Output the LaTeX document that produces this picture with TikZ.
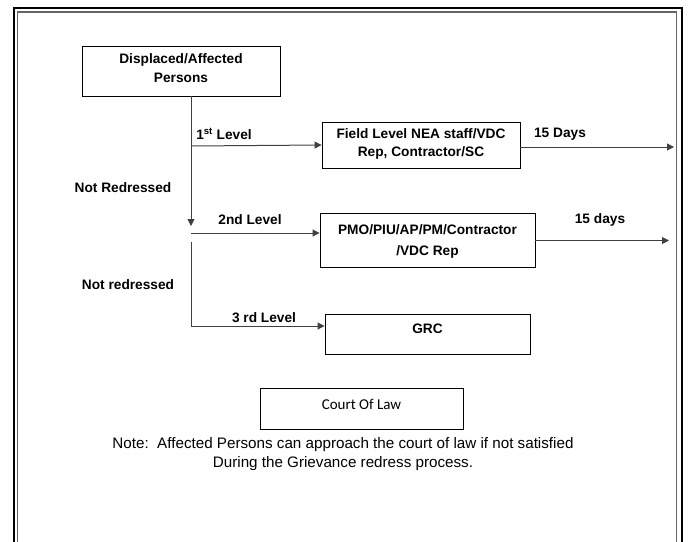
\documentclass[tikz,border=0pt]{standalone}
\usepackage{fontspec}
\setmainfont{Liberation Sans}
\newfontfamily\carl{Carlito}
\usetikzlibrary{arrows.meta}
\begin{document}
\begin{tikzpicture}[x=1pt,y=-1pt,
  box/.style={draw,line width=0.9pt,inner sep=0pt},
  lbl/.style={font=\bfseries\fontsize{13.7}{15}\selectfont,inner sep=0pt,align=center},
  conn/.style={draw=black!75,line width=1pt,-{Triangle[length=7pt,width=7pt]}},
  plain/.style={draw=black!75,line width=1pt}]
\useasboundingbox (0,0) rectangle (688,541);
% frame
\draw[line width=2pt] (14,545) -- (14,8) -- (682,8) -- (682,545);
\draw[black!60,line width=1.6pt] (17.5,545) -- (17.5,12) -- (676.5,12) -- (676.5,545);
% boxes
\node[box,minimum width=198pt,minimum height=50pt] (dap) at (181,71) {};
\node[lbl] at (181,59.5) {Displaced/Affected};
\node[lbl] at (181,77.5) {Persons};
\node[box,minimum width=198pt,minimum height=46pt] (fl) at (421,145) {};
\node[lbl] at (421,134) {Field Level NEA staff/VDC};
\node[lbl] at (421,153) {Rep, Contractor/SC};
\node[box,minimum width=215pt,minimum height=54pt] (pmo) at (427.5,240) {};
\node[lbl] at (427.5,230) {PMO/PIU/AP/PM/Contractor};
\node[lbl] at (427.5,252) {/VDC Rep};
\node[box,minimum width=205pt,minimum height=40pt] (grc) at (427.5,334) {};
\node[lbl] at (427.5,329) {GRC};
\node[box,minimum width=203pt,minimum height=41pt] (col) at (361.5,408.5) {};
\node[font=\carl\fontsize{15}{17}\selectfont,inner sep=0pt] at (361.5,404) {Court Of Law};
\node[font=\fontsize{15.2}{17}\selectfont,inner sep=0pt] (note1) at (343,444.5) {Note:\ \ Affected Persons can approach the court of law if not satisfied};
\node[font=\fontsize{15.2}{17}\selectfont,inner sep=0pt] (note2) at (343,463.5) {During the Grievance redress process.};
% coordinates
\coordinate (v0) at (191,96);
\coordinate (j1) at (191,146);
\coordinate (a1) at (191,226);
\coordinate (j2) at (191,233);
\coordinate (v2) at (191,242);
\coordinate (j3) at (191,326);
\coordinate (o1) at (674,147);
\coordinate (o2) at (669,240.5);
% connectors
\draw[plain] (dap.south -| v0) -- (j1);
\draw[conn] (j1) -- (a1);
\draw[conn] (j1) -- (fl.west);
\draw[conn] (j2) -- (pmo.west |- j2);
\draw[conn] (v2) -- (j3) -- (grc.west |- j3);
\draw[conn] (fl.east |- o1) -- (o1);
\draw[conn] (pmo.east |- o2) -- (o2);
% labels
\node[lbl] at (224,134) {1\textsuperscript{st} Level};
\node[lbl] at (560,134) {15 Days};
\node[lbl] at (123,187.5) {Not Redressed};
\node[lbl] at (250,219.5) {2nd Level};
\node[lbl] at (600,220) {15 days};
\node[lbl] at (128,284.5) {Not redressed};
\node[lbl] at (264,317.5) {3 rd Level};
\end{tikzpicture}
\end{document}
